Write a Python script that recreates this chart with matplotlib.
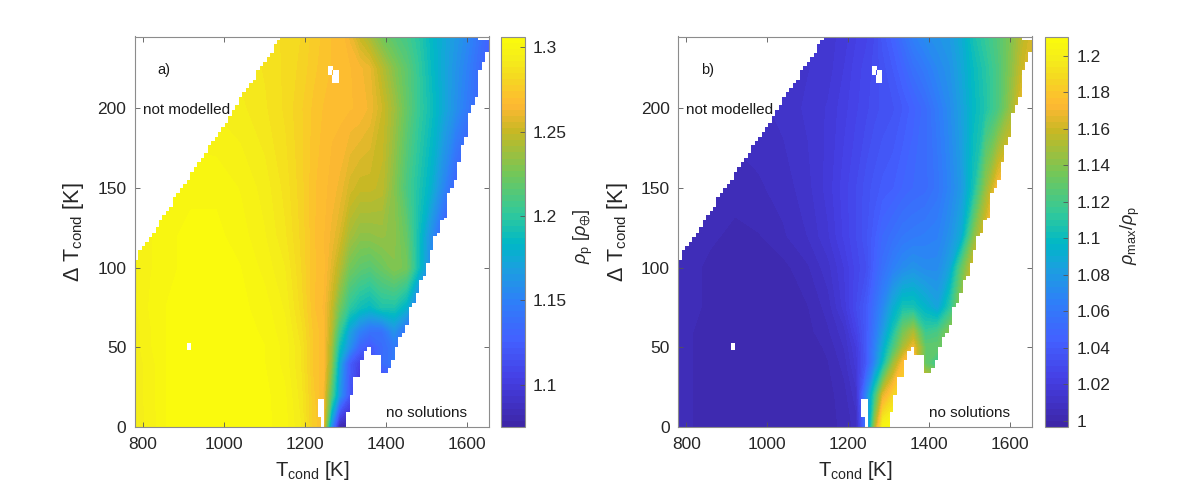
import matplotlib
matplotlib.use('Agg')
import matplotlib.pyplot as plt
from matplotlib.colors import LinearSegmentedColormap, Normalize
from matplotlib.cm import ScalarMappable
from matplotlib.path import Path
import numpy as np

plt.rcParams['font.family'] = ['Liberation Sans', 'DejaVu Sans']
plt.rcParams['mathtext.fontset'] = 'custom'
plt.rcParams['mathtext.rm'] = 'Liberation Sans'
plt.rcParams['mathtext.it'] = 'Liberation Sans:italic'
plt.rcParams['mathtext.fallback'] = 'stixsans'

# table knots
t_cond = [780, 820, 860, 920, 980, 1040, 1100, 1150, 1190, 1220, 1245, 1265, 1285,
          1310, 1335, 1360, 1390, 1420, 1450, 1480, 1510, 1540, 1570, 1600, 1630, 1660]
delta_t = [0, 20, 40, 50, 60, 75, 100, 120, 150, 200, 225, 245]

rho_p = [
    [1.293, 1.297, 1.303, 1.305, 1.305, 1.305, 1.304, 1.301, 1.292, 1.276, 1.270, 1.160, 1.080,
     1.076, 1.075, 1.075, 1.075, 1.075, 1.075, 1.075, 1.075, 1.075, 1.075, 1.075, 1.075, 1.075],
    [1.293, 1.298, 1.303, 1.305, 1.305, 1.305, 1.304, 1.300, 1.290, 1.275, 1.266, 1.215, 1.165,
     1.120, 1.085, 1.080, 1.090, 1.100, 1.100, 1.100, 1.100, 1.100, 1.100, 1.100, 1.100, 1.100],
    [1.293, 1.298, 1.303, 1.305, 1.305, 1.305, 1.303, 1.298, 1.288, 1.273, 1.268, 1.235, 1.175,
     1.125, 1.105, 1.110, 1.135, 1.145, 1.140, 1.130, 1.130, 1.130, 1.130, 1.130, 1.130, 1.130],
    [1.294, 1.299, 1.303, 1.305, 1.305, 1.305, 1.303, 1.298, 1.288, 1.273, 1.268, 1.240, 1.190,
     1.160, 1.130, 1.120, 1.135, 1.145, 1.125, 1.120, 1.120, 1.120, 1.120, 1.120, 1.120, 1.120],
    [1.294, 1.299, 1.303, 1.305, 1.305, 1.305, 1.302, 1.297, 1.286, 1.273, 1.268, 1.245, 1.205,
     1.170, 1.150, 1.140, 1.140, 1.160, 1.140, 1.120, 1.120, 1.120, 1.120, 1.120, 1.120, 1.120],
    [1.295, 1.300, 1.303, 1.305, 1.305, 1.304, 1.301, 1.295, 1.283, 1.271, 1.266, 1.250, 1.225,
     1.200, 1.190, 1.185, 1.195, 1.195, 1.180, 1.140, 1.120, 1.120, 1.120, 1.120, 1.120, 1.120],
    [1.295, 1.299, 1.302, 1.304, 1.305, 1.303, 1.298, 1.292, 1.281, 1.271, 1.268, 1.258, 1.245,
     1.225, 1.218, 1.215, 1.222, 1.230, 1.225, 1.190, 1.155, 1.130, 1.120, 1.120, 1.120, 1.120],
    [1.296, 1.299, 1.302, 1.304, 1.304, 1.301, 1.296, 1.289, 1.280, 1.271, 1.267, 1.262, 1.255,
     1.240, 1.233, 1.233, 1.235, 1.232, 1.220, 1.190, 1.160, 1.130, 1.120, 1.120, 1.120, 1.120],
    [1.296, 1.298, 1.300, 1.302, 1.302, 1.299, 1.294, 1.287, 1.279, 1.271, 1.268, 1.265, 1.262,
     1.254, 1.250, 1.250, 1.247, 1.230, 1.210, 1.195, 1.180, 1.155, 1.130, 1.115, 1.115, 1.115],
    [1.295, 1.295, 1.296, 1.296, 1.295, 1.293, 1.289, 1.284, 1.278, 1.273, 1.270, 1.268, 1.268,
     1.267, 1.266, 1.262, 1.252, 1.238, 1.220, 1.203, 1.190, 1.175, 1.160, 1.145, 1.130, 1.120],
    [1.292, 1.292, 1.292, 1.292, 1.292, 1.291, 1.288, 1.284, 1.280, 1.275, 1.272, 1.270, 1.269,
     1.267, 1.264, 1.260, 1.245, 1.230, 1.217, 1.202, 1.187, 1.174, 1.162, 1.150, 1.135, 1.122],
    [1.290, 1.290, 1.290, 1.290, 1.290, 1.289, 1.287, 1.284, 1.281, 1.276, 1.273, 1.270, 1.270,
     1.262, 1.250, 1.240, 1.225, 1.215, 1.208, 1.198, 1.185, 1.175, 1.165, 1.155, 1.140, 1.125],
]

rho_ratio = [
    [1.005, 1.003, 1.001, 1.000, 1.000, 1.000, 1.000, 1.002, 1.004, 1.008, 1.060, 1.150, 1.205,
     1.210, 1.210, 1.210, 1.210, 1.210, 1.210, 1.210, 1.210, 1.210, 1.210, 1.210, 1.210, 1.210],
    [1.005, 1.003, 1.001, 1.000, 1.000, 1.000, 1.000, 1.002, 1.005, 1.012, 1.070, 1.115, 1.165,
     1.185, 1.190, 1.190, 1.190, 1.190, 1.190, 1.190, 1.190, 1.190, 1.190, 1.190, 1.190, 1.190],
    [1.005, 1.003, 1.002, 1.000, 1.000, 1.000, 1.001, 1.003, 1.008, 1.018, 1.040, 1.070, 1.100,
     1.145, 1.175, 1.180, 1.130, 1.115, 1.120, 1.120, 1.120, 1.120, 1.120, 1.120, 1.120, 1.120],
    [1.005, 1.003, 1.002, 1.000, 1.000, 1.000, 1.001, 1.004, 1.010, 1.020, 1.040, 1.065, 1.090,
     1.120, 1.150, 1.170, 1.130, 1.130, 1.135, 1.130, 1.130, 1.130, 1.130, 1.130, 1.130, 1.130],
    [1.005, 1.003, 1.002, 1.000, 1.000, 1.000, 1.002, 1.006, 1.012, 1.025, 1.040, 1.060, 1.080,
     1.105, 1.135, 1.150, 1.115, 1.120, 1.140, 1.150, 1.150, 1.150, 1.150, 1.150, 1.150, 1.150],
    [1.005, 1.004, 1.002, 1.000, 1.000, 1.001, 1.003, 1.008, 1.018, 1.030, 1.040, 1.055, 1.070,
     1.090, 1.105, 1.105, 1.095, 1.085, 1.110, 1.150, 1.160, 1.160, 1.160, 1.160, 1.160, 1.160],
    [1.006, 1.004, 1.002, 1.001, 1.001, 1.002, 1.006, 1.012, 1.020, 1.028, 1.033, 1.045, 1.055,
     1.065, 1.072, 1.076, 1.072, 1.072, 1.085, 1.130, 1.165, 1.170, 1.170, 1.170, 1.170, 1.170],
    [1.006, 1.005, 1.004, 1.002, 1.003, 1.006, 1.010, 1.016, 1.024, 1.030, 1.036, 1.042, 1.050,
     1.055, 1.060, 1.062, 1.064, 1.066, 1.075, 1.090, 1.140, 1.170, 1.170, 1.170, 1.170, 1.170],
    [1.007, 1.006, 1.005, 1.005, 1.006, 1.008, 1.012, 1.018, 1.025, 1.030, 1.035, 1.038, 1.041,
     1.043, 1.047, 1.050, 1.052, 1.058, 1.068, 1.080, 1.105, 1.145, 1.175, 1.180, 1.180, 1.180],
    [1.008, 1.008, 1.008, 1.008, 1.009, 1.011, 1.014, 1.017, 1.022, 1.026, 1.029, 1.032, 1.034,
     1.036, 1.040, 1.045, 1.052, 1.062, 1.072, 1.084, 1.098, 1.108, 1.122, 1.145, 1.170, 1.170],
    [1.010, 1.010, 1.010, 1.010, 1.010, 1.012, 1.013, 1.015, 1.020, 1.025, 1.028, 1.031, 1.035,
     1.040, 1.047, 1.055, 1.062, 1.070, 1.076, 1.087, 1.100, 1.110, 1.122, 1.140, 1.160, 1.165],
    [1.012, 1.012, 1.012, 1.012, 1.012, 1.013, 1.014, 1.015, 1.018, 1.023, 1.026, 1.030, 1.038,
     1.045, 1.055, 1.065, 1.072, 1.076, 1.080, 1.090, 1.105, 1.115, 1.125, 1.138, 1.155, 1.165],
]

# modelled region, one entry per grid column
column_width = 8.56
upper_edge = [105, 111, 113.5, 116, 119, 122, 125.6, 130, 133, 135.5, 138, 144.5, 147, 150,
              152.4, 155, 160, 163, 166, 168.6, 171.6, 177, 179.6, 182, 185, 188, 190.6, 195,
              199, 202, 207, 210, 213, 216, 218, 224, 226.5, 229, 232, 234.5, 240, 243]
lower_edge = [9.6, 20, 31.6, 31.6, 42, 47.9, 50.4, 45, 45, 45, 34, 34, 36.8, 42, 50, 56.4, 59,
              64, 75.5, 78, 84, 92, 95, 103, 111, 120, 122, 130, 131, 147, 150, 155, 166, 177,
              182, 197, 202, 207, 224, 229, 235]
n_columns = 102
upper_full = upper_edge + [245] * (n_columns - len(upper_edge) - 3) + [243] * 3
lower_full = [0] * (n_columns - len(lower_edge)) + lower_edge

# failed runs: T0, T1, dT0, dT1
holes = [(1231, 1248, 6.5, 17.5), (1240, 1248, 0, 6.5), (1258, 1270, 221, 226.5),
         (1267, 1283, 215.6, 224), (910, 919, 48, 53)]

cmap_fracs = [0, 0.12, 0.22, 0.32, 0.40, 0.47, 0.55, 0.65, 0.76, 0.83, 0.90, 0.95, 1]
cmap_colors = [(.24, .15, .66), (.27, .25, .90), (.26, .38, 1.0), (.18, .5, .97), (.11, .62, .88),
               (0, .72, .78), (.2, .79, .6), (.45, .78, .35), (.78, .72, .14), (1.0, .72, .2),
               (.96, .85, .13), (.96, .93, .1), (.98, .98, .05)]
parula = LinearSegmentedColormap.from_list('parula_old', list(zip(cmap_fracs, cmap_colors)), N=64)


def region_path():
    edges = 780 + column_width * np.arange(n_columns + 1)
    verts = []
    for i in range(n_columns):
        verts += [(edges[i], upper_full[i]), (edges[i + 1], upper_full[i])]
    for i in range(n_columns - 1, -1, -1):
        verts += [(edges[i + 1], lower_full[i]), (edges[i], lower_full[i])]
    verts.append(verts[0])
    codes = [Path.MOVETO] + [Path.LINETO] * (len(verts) - 2) + [Path.CLOSEPOLY]
    for t0, t1, d0, d1 in holes:
        # opposite winding so they are cut out of the clip
        verts += [(t0, d0), (t1, d0), (t1, d1), (t0, d1), (t0, d0)]
        codes += [Path.MOVETO, Path.LINETO, Path.LINETO, Path.LINETO, Path.CLOSEPOLY]
    return Path(verts, codes)


def draw_panel(fig, ax_box, cb_box, values, vmin, vmax, cb_ticks, cb_labels, cb_label, cb_label_x, tag):
    ax = fig.add_axes(ax_box)
    levels = np.linspace(vmin, vmax, 65)
    cs = ax.contourf(t_cond, delta_t, np.array(values), levels=levels, cmap=parula,
                     vmin=vmin, vmax=vmax, extend='both')
    ax.set_xlim(780, 1654)
    ax.set_ylim(0, 245)
    cs.set_clip_path(region_path(), ax.transData)

    ax.set_xticks([800, 1000, 1200, 1400, 1600])
    ax.set_yticks([0, 50, 100, 150, 200])
    ax.tick_params(direction='in', length=3.5, width=0.6, top=True, right=True,
                   labelsize=12.5, color='#555555', labelcolor='#262626')
    ax.tick_params(axis='x', pad=7)
    ax.tick_params(axis='y', pad=6)
    for s in ax.spines.values():
        s.set_color('#8c8c8c')
        s.set_linewidth(0.8)
    ax.set_xlabel(r'T$_{\mathrm{cond}}$ [K]', fontsize=14.5, color='#262626', labelpad=5)
    ax.set_ylabel(r'$\Delta$ T$_{\mathrm{cond}}$ [K]', fontsize=15.5, color='#262626', labelpad=8)

    ax.text(835, 224, tag, fontsize=10.5, va='center', color='#1a1a1a')
    ax.text(800, 199, 'not modelled', fontsize=11, va='center', color='#1a1a1a')
    ax.text(1400, 8.5, 'no solutions', fontsize=11, va='center', color='#1a1a1a')

    cax = fig.add_axes(cb_box)
    cb = fig.colorbar(ScalarMappable(Normalize(vmin, vmax), parula), cax=cax)
    cb.set_ticks(cb_ticks)
    cb.set_ticklabels(cb_labels)
    cb.ax.tick_params(direction='in', length=3.5, width=0.6, labelsize=12.5, color='#555555',
                      labelcolor='#262626', pad=6)
    cb.outline.set_edgecolor('#8c8c8c')
    cb.outline.set_linewidth(0.8)
    fig.text(cb_label_x / 1196, 1 - 236 / 491, cb_label, rotation=90, fontsize=13,
             ha='center', va='center', color='#262626')


W, H = 1196, 491
fig = plt.figure(figsize=(W / 100, H / 100), dpi=100)


def box(x0, x1, y_top, y_bottom):
    return [x0 / W, 1 - y_bottom / H, (x1 - x0) / W, (y_bottom - y_top) / H]


draw_panel(fig, box(134.7, 489, 36.5, 427), box(501, 524.7, 36.5, 427), rho_p, 1.075, 1.3065,
           [1.1, 1.15, 1.2, 1.25, 1.3], ['1.1', '1.15', '1.2', '1.25', '1.3'],
           r'$\rho_{\mathrm{p}}$ [$\rho_{\oplus}$]', 583, 'a)')
draw_panel(fig, box(678.3, 1032.3, 36.5, 427), box(1045, 1068.3, 36.5, 427), rho_ratio, 0.9965, 1.2106,
           [1, 1.02, 1.04, 1.06, 1.08, 1.1, 1.12, 1.14, 1.16, 1.18, 1.2],
           ['1', '1.02', '1.04', '1.06', '1.08', '1.1', '1.12', '1.14', '1.16', '1.18', '1.2'],
           r'$\rho_{\mathrm{max}}/\rho_{\mathrm{p}}$', 1130, 'b)')

fig.savefig('out.png', dpi=100)
